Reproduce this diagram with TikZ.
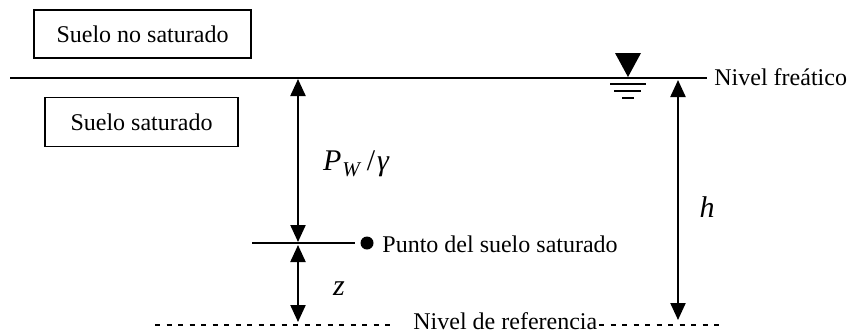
\documentclass[tikz,border=0pt]{standalone}
\usepackage{fontspec}
\setmainfont{Liberation Serif}
\usetikzlibrary{arrows.meta}
\begin{document}
\begin{tikzpicture}[x=0.5pt,y=-0.5pt,
  every node/.style={font=\fontsize{12}{14}\selectfont, inner sep=0pt},
  soilbox/.style={draw, line width=0.9pt},
  hline/.style={line width=0.8pt},
  dimarrow/.style={line width=1.1pt, {Triangle[length=8.5pt,width=7.5pt]}-{Triangle[length=8.5pt,width=7.5pt]}},
  refline/.style={line width=0.8pt, dash pattern=on 2.5pt off 3.25pt},
  mathlbl/.style={font=\fontsize{15}{17}\selectfont\itshape}]
\useasboundingbox (0,0) rectangle (850,333);

% soil boxes
\node[soilbox, minimum width=108.5pt, minimum height=24pt] (b1) at (142.5,34) {Suelo no saturado};
\node[soilbox, minimum width=96.5pt, minimum height=24.5pt] (b2) at (141.5,122) {Suelo saturado};

% water table
\coordinate (wl) at (10,78);
\coordinate (wr) at (707,78);
\draw[hline] (wl) -- (wr);
\node[anchor=base west] (nf) at (714,85) {Nivel freático};
\fill (615,53) -- (641,53) -- (628,77) -- cycle;
\draw[hline] (610,84) -- (646,84);
\draw[hline] (614,91) -- (641,91);
\draw[hline] (622,98) -- (634,98);

% point level
\coordinate (pl) at (252,243);
\coordinate (pr) at (355,243);
\draw[hline] (pl) -- (pr);
\node[circle, fill, minimum size=6.5pt] (dot) at (367,243) {};
\node[anchor=base west] (pt) at (382,252) {Punto del suelo saturado};

% reference level
\coordinate (d1) at (155,325);
\coordinate (d2) at (395,325);
\coordinate (d3) at (599,325);
\coordinate (d4) at (721,325);
\draw[refline] (d1) -- (d2);
\draw[refline] (d3) -- (d4);
\node[anchor=base west] (nr) at (413,329) {Nivel de referencia};

% dimension arrows
\coordinate (pTop) at (298,79);
\coordinate (pBot) at (298,242);
\coordinate (zTop) at (298,245);
\coordinate (zBot) at (298,322);
\coordinate (hTop) at (678,80);
\coordinate (hBot) at (678,320);
\draw[dimarrow] (pTop) -- (pBot);
\draw[dimarrow] (zTop) -- (zBot);
\draw[dimarrow] (hTop) -- (hBot);

% labels
\node[mathlbl] (lp) at (356,164) {P\kern0.5pt\raisebox{-0.45ex}{\fontsize{10.5}{12}\selectfont\itshape W}\hspace{3.5pt}\upshape/\kern1pt\itshape γ};
\node[mathlbl] (lh) at (707,207) {h};
\node[mathlbl] (lz) at (339,289) {z};
\end{tikzpicture}
\end{document}
